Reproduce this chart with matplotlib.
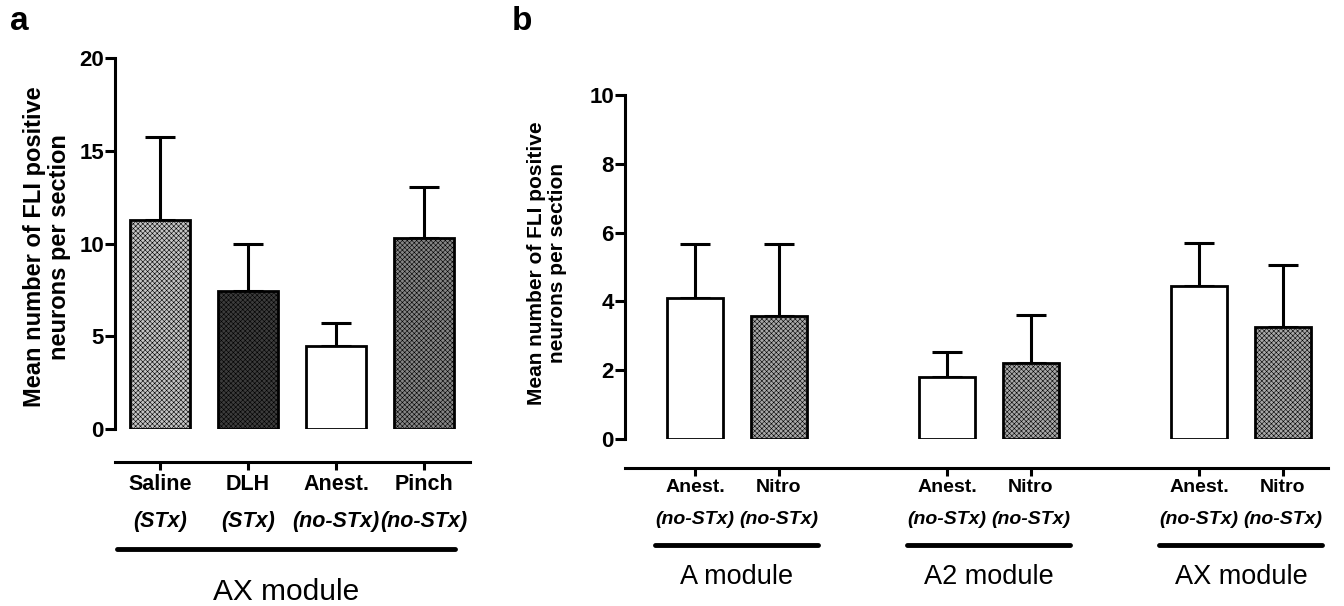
import matplotlib.pyplot as plt
import matplotlib.transforms as mtransforms

plt.rcParams['font.family'] = ['Liberation Sans', 'DejaVu Sans']
plt.rcParams['hatch.linewidth'] = 0.4

# panel a : AX module
a_groups = ["Saline", "DLH", "Anest.", "Pinch"]
a_sub    = ["(STx)", "(STx)", "(no-STx)", "(no-STx)"]
a_means  = [11.25, 7.45, 4.5, 10.27]
a_err    = [4.5, 2.55, 1.2, 2.77]
a_colors = ["#c4c4c4", "#3c3c3c", "white", "#858585"]
a_hatch  = ["xxxxxxx", "xxxxxxx", "", "xxxxxxx"]

# panel b : three modules, Anest. vs Nitro
b_groups  = ["Anest.", "Nitro"] * 3
b_sub     = ["(no-STx)"] * 6
b_modules = ["A module", "A2 module", "AX module"]
b_means   = [4.1, 3.58, 1.8, 2.21, 4.45, 3.26]
b_err     = [1.57, 2.1, 0.73, 1.39, 1.25, 1.8]
b_colors  = ["white", "#a8a8a8"] * 3
b_hatch   = ["", "xxxxxxx"] * 3

ylabel = "Mean number of FLI positive\nneurons per section"

W, H = 1344, 606
fig = plt.figure(figsize=(W / 100, H / 100), dpi=100)


def fy(py):
    return 1 - py / H


def style_axis(ax, ymax, step, drop):
    for s in ["top", "right"]:
        ax.spines[s].set_visible(False)
    ax.spines["left"].set_bounds(0, ymax)
    ax.spines["left"].set_linewidth(2.2)
    ax.spines["bottom"].set_linewidth(2.2)
    ax.spines["bottom"].set_position(("outward", drop))
    ax.set_ylim(0, ymax)
    ax.set_yticks(range(0, ymax + 1, step))
    ax.tick_params(axis="y", length=7, width=2.2, labelsize=16, pad=1)
    ax.tick_params(axis="x", length=6, width=2.2, labelbottom=False)
    for t in ax.get_yticklabels():
        t.set_fontweight("bold")


# ---- panel a
ax1 = fig.add_axes([115 / W, fy(429), 355 / W, fy(58) - fy(429)])
xa = list(range(len(a_means)))
ax1.bar(xa, a_means, width=0.68, color=a_colors, edgecolor="black",
        linewidth=2.0, hatch=a_hatch, zorder=2)
ax1.errorbar(xa, a_means, yerr=[[0] * 4, a_err], fmt="none", ecolor="black",
             elinewidth=2.2, capsize=10.5, capthick=2.2, zorder=1)
ax1.set_xlim(-0.511, 3.523)
ax1.set_xticks(xa)
style_axis(ax1, 20, 5, 24)
fig.text(47 / W, fy(247), ylabel, rotation=90, ha="center", va="center",
         fontsize=17, fontweight="bold", linespacing=1.1)

tra = mtransforms.blended_transform_factory(ax1.transData, fig.transFigure)
for x, g, s in zip(xa, a_groups, a_sub):
    ax1.text(x, fy(485), g, transform=tra, ha="center", va="center",
             fontsize=15.5, fontweight="bold")
    ax1.text(x, fy(522), s, transform=tra, ha="center", va="center",
             fontsize=15.5, fontweight="bold", style="italic")
ax1.plot([-0.49, 3.35], [fy(549)] * 2, transform=tra, color="black",
         lw=3.5, solid_capstyle="round", clip_on=False)
ax1.text(1.43, fy(592), "AX module", transform=tra, ha="center", va="center",
         fontsize=21.5)

# ---- panel b
ax2 = fig.add_axes([625 / W, fy(439), 703 / W, fy(95) - fy(439)])
xb = [0, 1, 3, 4, 6, 7]
ax2.bar(xb, b_means, width=0.667, color=b_colors, edgecolor="black",
        linewidth=2.0, hatch=b_hatch, zorder=2)
ax2.errorbar(xb, b_means, yerr=[[0] * 6, b_err], fmt="none", ecolor="black",
             elinewidth=2.2, capsize=10.5, capthick=2.2, zorder=1)
ax2.set_xlim(-0.833, 7.536)
ax2.set_xticks(xb)
style_axis(ax2, 10, 2, 21)
fig.text(547 / W, fy(263), ylabel, rotation=90, ha="center", va="center",
         fontsize=15, fontweight="bold", linespacing=1.1)

trb = mtransforms.blended_transform_factory(ax2.transData, fig.transFigure)
for x, g, s in zip(xb, b_groups, b_sub):
    ax2.text(x, fy(488), g, transform=trb, ha="center", va="center",
             fontsize=14, fontweight="bold")
    ax2.text(x, fy(520), s, transform=trb, ha="center", va="center",
             fontsize=14, fontweight="bold", style="italic")
for c, m in zip([0.5, 3.5, 6.5], b_modules):
    ax2.plot([c - 0.97, c + 0.97], [fy(545)] * 2, transform=trb,
             color="black", lw=3.5, solid_capstyle="round", clip_on=False)
    ax2.text(c, fy(577), m, transform=trb, ha="center", va="center",
             fontsize=19.5)

fig.text(10 / W, fy(22), "a", fontsize=24, fontweight="bold", va="center")
fig.text(512 / W, fy(22), "b", fontsize=24, fontweight="bold", va="center")

plt.savefig("out.png", dpi=100)
